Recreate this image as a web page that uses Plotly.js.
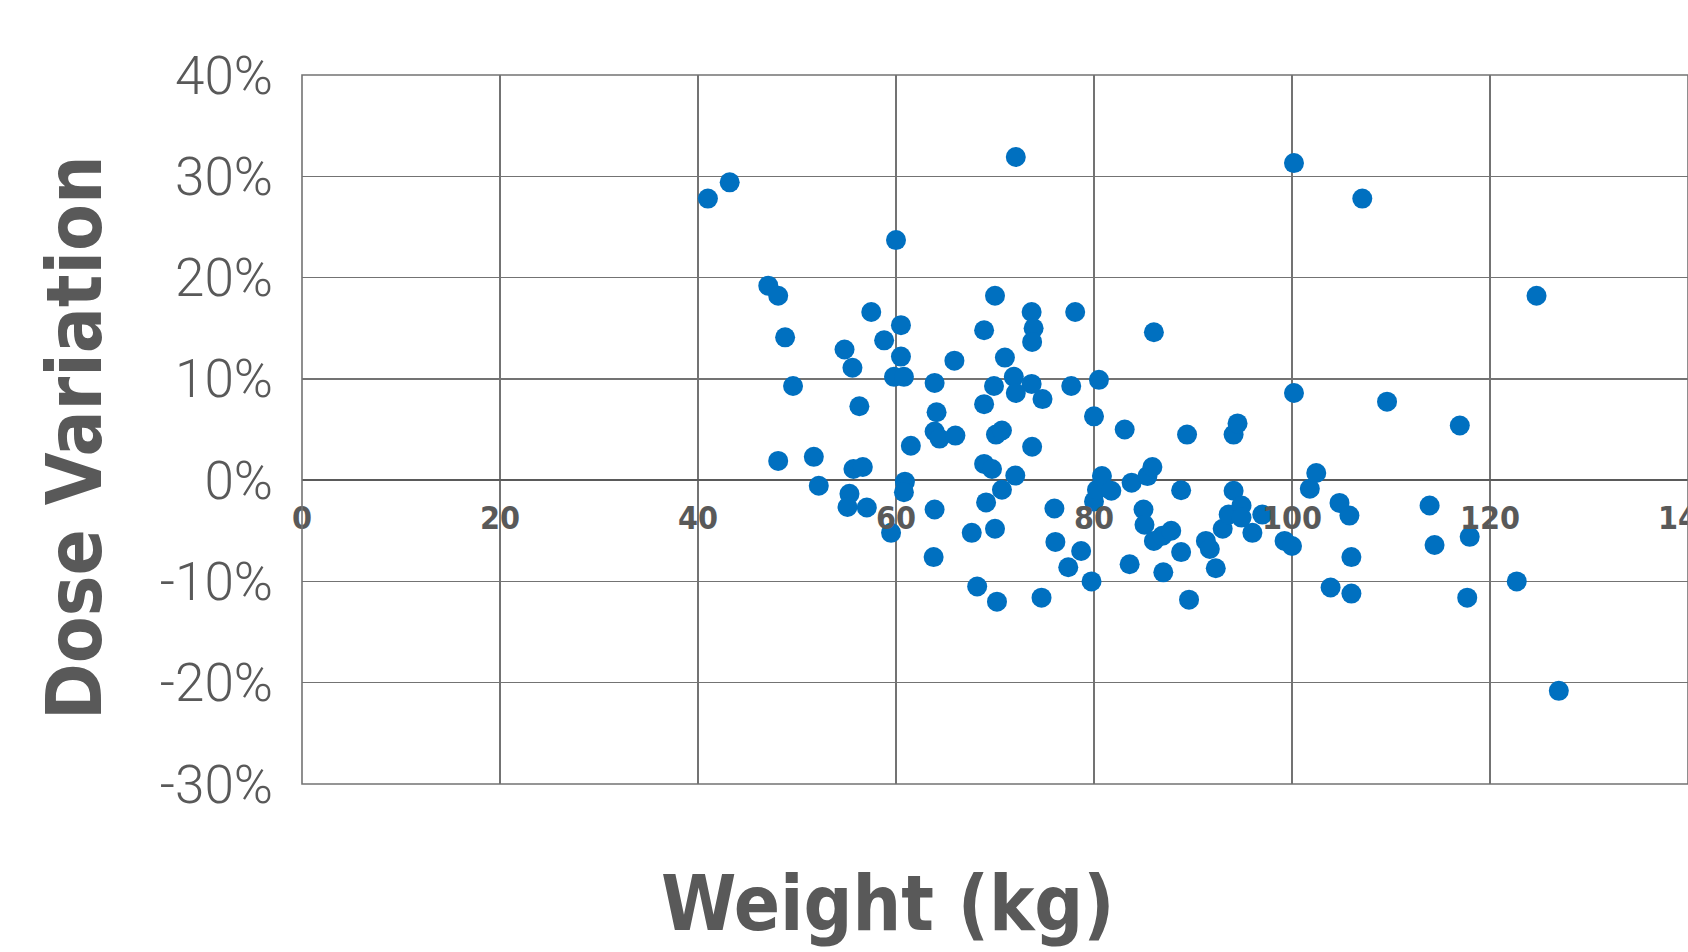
<!DOCTYPE html>
<html>
<head>
<meta charset="utf-8">
<script src="https://cdn.plot.ly/plotly-3.0.1.min.js"></script>
<style>html,body{margin:0;padding:0;background:#fff;}#chart{width:1688px;height:952px;}</style>
</head>
<body>
<div id="chart"></div>
<script>
// Weight (kg)
const weightKg = [
  41.0, 43.2, 72.1, 60.0, 47.1, 48.1, 57.5, 70.0, 73.7, 78.1,
  73.9, 73.75, 60.5, 58.8, 48.8, 54.8, 55.6, 60.5, 68.9, 86.05,
  65.9, 71.0, 59.8, 60.8, 49.6, 63.9, 71.9, 69.9, 73.7, 72.1,
  77.7, 80.5, 74.8, 56.3, 64.1, 68.9, 80.0, 83.1, 63.9, 64.4,
  66.0, 70.1, 70.7, 73.75, 61.5, 89.4, 94.1, 94.5, 116.95, 100.2,
  107.1, 124.7, 100.2, 109.6, 48.1, 51.7, 52.2, 55.7, 56.65, 55.3,
  55.1, 57.05, 60.9, 60.8, 59.5, 68.9, 69.7, 72.05, 70.7, 69.1,
  63.9, 67.65, 70.0, 63.8, 68.2, 70.2, 74.7, 76.0, 76.1, 77.4,
  78.7, 79.75, 80.0, 80.3, 80.8, 81.75, 83.8, 85.4, 85.9, 85.0,
  85.1, 86.05, 86.9, 87.8, 83.6, 87.0, 88.8, 88.8, 89.6, 91.3,
  91.7, 92.3, 93.0, 93.6, 94.1, 94.9, 94.9, 96.0, 97.0, 99.25,
  100.0, 101.8, 102.45, 104.8, 105.8, 106.0, 103.9, 106.0, 113.9, 114.4,
  117.95, 117.7, 122.7, 126.95
];
// Dose variation (%)
const doseVariationPct = [
  27.8, 29.4, 31.9, 23.7, 19.2, 18.2, 16.6, 18.2, 16.6, 16.6,
  15.0, 13.65, 15.3, 13.8, 14.1, 12.9, 11.1, 12.2, 14.8, 14.6,
  11.8, 12.1, 10.2, 10.2, 9.3, 9.6, 10.2, 9.3, 9.5, 8.6,
  9.3, 9.9, 8.0, 7.3, 6.7, 7.5, 6.3, 5.0, 4.8, 4.1,
  4.4, 4.5, 4.9, 3.3, 3.4, 4.5, 4.5, 5.6, 5.4, 31.3,
  27.8, 18.2, 8.6, 7.75, 1.9, 2.3, -0.55, 1.1, 1.3, -1.35,
  -2.65, -2.7, -0.15, -1.2, -5.2, 1.6, 1.1, 0.45, -0.95, -2.2,
  -2.9, -5.2, -4.8, -7.6, -10.5, -12.0, -11.6, -2.8, -6.1, -8.6,
  -7.0, -10.0, -2.1, -0.95, 0.4, -1.05, -0.25, 0.4, 1.3, -2.9,
  -4.4, -6.0, -5.5, -5.0, -8.3, -9.1, -1.0, -7.1, -11.8, -6.0,
  -6.8, -8.7, -4.8, -3.4, -1.05, -2.5, -3.7, -5.2, -3.4, -6.0,
  -6.5, -0.85, 0.7, -2.25, -3.5, -7.6, -10.6, -11.2, -2.5, -6.4,
  -5.6, -11.6, -10.0, -20.8
];
const xTickVals = [0, 20, 40, 60, 80, 100, 120, 140];
const xTickText = ["0", "20", "40", "60", "80", "100", "120", "140"];
const yTickVals = [-30, -20, -10, 0, 10, 20, 30, 40];
const yTickText = ["-30%", "-20%", "-10%", "0%", "10%", "20%", "30%", "40%"];
const xTitle = "Weight (kg)";
const yTitle = "Dose Variation";

const grey = "#595959";
const gridGrey = "#737373";
const titleFont = {family: "DejaVu Sans Condensed, sans-serif", size: 76, color: grey, weight: 700};

const trace = {
  type: "scatter",
  mode: "markers",
  x: weightKg,
  y: doseVariationPct,
  marker: {color: "#0070C0", size: 20, line: {width: 0}},
  hoverinfo: "skip"
};

const layout = {
  width: 1688,
  height: 952,
  margin: {l: 302, r: 0, t: 75, b: 168, pad: 0},
  paper_bgcolor: "#ffffff",
  plot_bgcolor: "#ffffff",
  showlegend: false,
  xaxis: {
    range: [0, 140],
    tickvals: xTickVals,
    ticktext: xTickText,
    anchor: "free",
    position: 30 / 70,
    showgrid: true,
    gridcolor: gridGrey,
    gridwidth: 1.5,
    zeroline: false,
    showline: false,
    ticks: "",
    ticklabelstandoff: 16,
    ticklabeloverflow: "allow",
    tickfont: {family: "DejaVu Sans Condensed, sans-serif", size: 32, color: grey, weight: 700},
    automargin: false,
    fixedrange: true
  },
  yaxis: {
    range: [-30, 40],
    tickvals: yTickVals,
    ticktext: yTickText,
    showgrid: true,
    gridcolor: gridGrey,
    gridwidth: 1.5,
    zeroline: true,
    zerolinecolor: "#5a5a5a",
    zerolinewidth: 2.5,
    showline: false,
    ticks: "",
    ticklabelstandoff: 28,
    tickfont: {family: "Roboto, sans-serif", size: 53, color: grey, weight: 300},
    automargin: false,
    fixedrange: true
  },
  shapes: [{
    type: "rect", xref: "paper", yref: "paper", x0: 0, x1: 1, y0: 0, y1: 1,
    line: {color: gridGrey, width: 1.6}, fillcolor: "rgba(0,0,0,0)", layer: "above"
  }],
  annotations: [
    {text: xTitle, xref: "paper", yref: "paper", x: (888 - 302) / 1386, y: -(903 - 784) / 709,
     xanchor: "center", yanchor: "middle", showarrow: false, font: titleFont},
    {text: yTitle, xref: "paper", yref: "paper", x: -(302 - 74) / 1386, y: (784 - 438) / 709,
     xanchor: "center", yanchor: "middle", textangle: -90, showarrow: false, font: titleFont}
  ],
  hovermode: false
};

Plotly.newPlot("chart", [trace], layout, {displayModeBar: false, staticPlot: true});
</script>
</body>
</html>
